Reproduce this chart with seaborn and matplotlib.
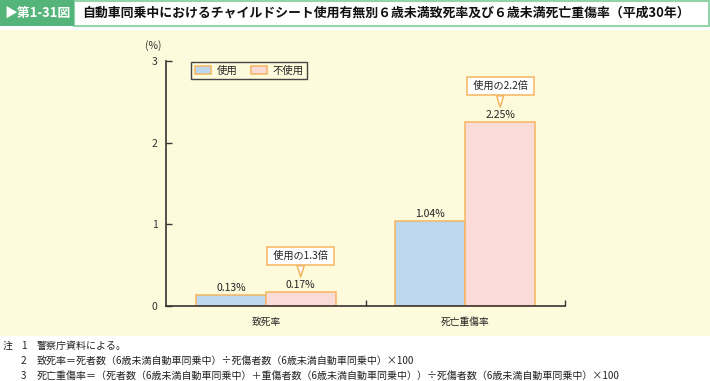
import matplotlib
matplotlib.use("Agg")
import matplotlib.pyplot as plt
from matplotlib.patches import Rectangle
import pandas as pd
import seaborn as sns

# data
categories = ["致死率", "死亡重傷率"]
groups = ["使用", "不使用"]
used_values = [0.13, 1.04]
unused_values = [0.17, 2.25]
ratio_labels = ["使用の1.3倍", "使用の2.2倍"]
y_ticks = [0, 1, 2, 3]

title_tag = "▶第1-31図"
title_text = "自動車同乗中におけるチャイルドシート使用有無別６歳未満致死率及び６歳未満死亡重傷率（平成30年）"
note_lines = [
    ("1", "警察庁資料による。"),
    ("2", "致死率＝死者数（6歳未満自動車同乗中）÷死傷者数（6歳未満自動車同乗中）×100"),
    ("3", "死亡重傷率＝（死者数（6歳未満自動車同乗中）＋重傷者数（6歳未満自動車同乗中））÷死傷者数（6歳未満自動車同乗中）×100"),
]

BLUE = "#BDD7EE"
PINK = "#FADBD8"
ORANGE = "#F5B560"
CREAM = "#FEFADC"
GREEN = "#55B47A"
LIGHT_GREEN = "#93D3A8"
DARK = "#3a3232"

sns.set_style("ticks")
plt.rcParams["font.family"] = ["Noto Sans CJK JP", "DejaVu Sans"]

df = pd.DataFrame({
    "category": categories * 2,
    "group": [groups[0]] * len(categories) + [groups[1]] * len(categories),
    "value": used_values + unused_values,
})

W, H = 710, 381
fig = plt.figure(figsize=(W / 100, H / 100), dpi=100)
fig.patch.set_facecolor("white")


def fx(px):
    return px / W


def fy(py):
    return 1 - py / H


# cream panel and title bar
fig.patches.append(Rectangle((0, fy(336)), 1, fy(30) - fy(336), transform=fig.transFigure,
                             facecolor=CREAM, edgecolor="none", zorder=-10))
fig.patches.append(Rectangle((fx(74), fy(25.5)), fx(708.5) - fx(74), fy(0.5) - fy(25.5),
                             transform=fig.transFigure, facecolor="white",
                             edgecolor=LIGHT_GREEN, linewidth=1.5, zorder=-10))
fig.patches.append(Rectangle((0, fy(26)), fx(74), fy(0) - fy(26), transform=fig.transFigure,
                             facecolor=GREEN, edgecolor="none", zorder=-9))
fig.text(fx(4), fy(13), title_tag, color="white", fontsize=9.3, fontweight="bold", va="center")
fig.text(fx(82), fy(13), title_text, color="#111111", fontsize=9.3, fontweight="bold", va="center")

# notes
for i, (num, line) in enumerate(note_lines):
    yy = fy(346 + 15 * i)
    if i == 0:
        fig.text(fx(3), yy, "注", fontsize=7.2, va="center", color="#222222")
    fig.text(fx(21), yy, num, fontsize=7.2, va="center", color="#222222")
    fig.text(fx(37), yy, line, fontsize=7.2, va="center", color="#222222")

ax = fig.add_axes([fx(166), fy(306), fx(565) - fx(166), fy(61) - fy(306)])
ax.patch.set_alpha(0)

sns.barplot(data=df, x="category", y="value", hue="group", order=categories, hue_order=groups,
            palette=[BLUE, PINK], edgecolor=ORANGE, linewidth=1.1, width=0.7, gap=0,
            saturation=1, ax=ax, legend=True)

ax.set_xlim(-0.5, 1.5)
ax.set_ylim(0, 3)
ax.set_yticks(y_ticks)
ax.set_xlabel("")
ax.set_ylabel("")
sns.despine(ax=ax)
for side in ("left", "bottom"):
    ax.spines[side].set_color(DARK)
    ax.spines[side].set_linewidth(1.2)

ax.tick_params(axis="y", direction="in", length=4, width=1, color=DARK, labelsize=7.5,
               labelcolor="#333333", pad=6)
ax.tick_params(axis="x", which="major", length=0, labelsize=7, labelcolor="#222222", pad=8)
ax.set_xticks([0.5, 1.5], minor=True)
ax.tick_params(axis="x", which="minor", direction="in", length=4, width=1, color=DARK)
ax.text(-0.033, 1.065, "(%)", transform=ax.transAxes, ha="center", va="center",
        fontsize=7.5, color="#333333")

# value labels and callouts
bars = [p for p in ax.patches if p.get_height() > 0]
for bar in bars:
    cx = bar.get_x() + bar.get_width() / 2
    h = bar.get_height()
    ax.annotate(f"{h:.2f}%", (cx, h), xytext=(0, 1.5), textcoords="offset points",
                ha="center", va="bottom", fontsize=7.5, color="#222222")

unused_bars = sorted([b for b in bars if abs(b.get_facecolor()[0] - 0.98) < 0.02],
                     key=lambda b: b.get_x())
for bar, label in zip(unused_bars, ratio_labels):
    cx = bar.get_x() + bar.get_width() / 2
    h = bar.get_height()
    ax.annotate(f" {label} ", xy=(cx, h), xycoords="data",
                xytext=(0, 26), textcoords="offset points",
                ha="center", va="center", fontsize=7.3, color="#222222",
                bbox=dict(boxstyle="square,pad=0.4", fc="white", ec=ORANGE, lw=1.1),
                arrowprops=dict(arrowstyle="wedge,tail_width=0.7", fc="white", ec=ORANGE,
                                lw=1.1, shrinkA=0, shrinkB=11, relpos=(0.5, 0.0)),
                annotation_clip=False)

handles, labels = ax.get_legend_handles_labels()
ax.legend(handles, labels, loc="upper left", bbox_to_anchor=((191 - 166) / 399, (306 - 62) / 245),
          ncol=2, frameon=True, fancybox=False, edgecolor="#444444", facecolor=CREAM,
          framealpha=1, fontsize=7.5, handlelength=1.6, handleheight=0.85, handletextpad=0.5,
          columnspacing=1.3, borderpad=0.35, borderaxespad=0)
ax.get_legend().get_frame().set_linewidth(1.0)

fig.savefig("out.png", dpi=100)
